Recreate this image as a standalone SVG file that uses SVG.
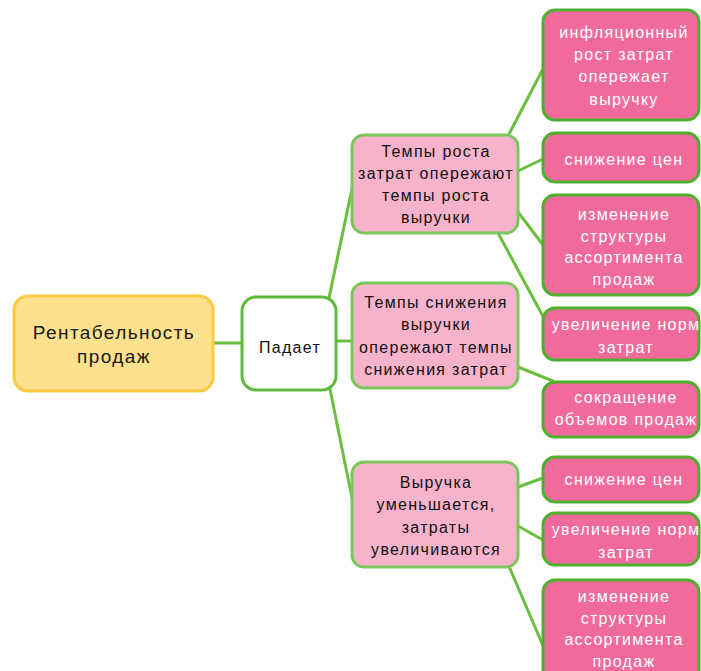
<svg xmlns="http://www.w3.org/2000/svg" width="701" height="671" viewBox="0 0 701 671">
<style>
text{font-family:"Liberation Sans",Arial,sans-serif;text-anchor:middle;}
.root rect{fill:#FFE08C;stroke:#FCC943;stroke-width:3;}
.root text{font-size:19px;letter-spacing:1.4px;fill:#1a1a1a;}
.hub rect{fill:#FFFFFF;stroke:#5DBA3B;stroke-width:3;}
.hub text{font-size:16px;letter-spacing:1.3px;fill:#111;}
.mid rect{fill:#F7B3CB;stroke:#7CC75B;stroke-width:3;}
.mid text{font-size:16px;letter-spacing:1.3px;fill:#111;}
.leaf rect{fill:#F06B9B;stroke:#4EAF2C;stroke-width:3;}
.leaf text{font-size:16px;letter-spacing:1.3px;fill:#FFFFFF;}
#connectors line{stroke:#6ABF3F;stroke-width:3;stroke-linecap:round;}
</style>
<rect width="701" height="671" fill="#FFFFFF"/>
<g id="connectors">
<line x1="213" y1="343" x2="242" y2="343"/>
<line x1="329" y1="298" x2="353" y2="184"/>
<line x1="336" y1="341" x2="352" y2="341"/>
<line x1="330" y1="389" x2="353" y2="503"/>
<line x1="508" y1="136" x2="544" y2="67"/>
<line x1="518" y1="171" x2="543" y2="159"/>
<line x1="518" y1="212" x2="543" y2="245"/>
<line x1="498" y1="233" x2="545" y2="320"/>
<line x1="518" y1="367" x2="553" y2="381"/>
<line x1="518" y1="487" x2="543" y2="478"/>
<line x1="518" y1="526" x2="543" y2="540"/>
<line x1="508" y1="564" x2="544" y2="648"/>
</g>
<g id="root" class="root">
<rect x="14" y="296" width="199" height="95" rx="14"/>
<text x="114" y="339">Рентабельность</text>
<text x="114" y="363">продаж</text>
</g>
<g id="hub" class="hub">
<rect x="242" y="297" width="94" height="93" rx="14"/>
<text x="290" y="353">Падает</text>
</g>
<g id="midA" class="mid">
<rect x="352" y="135" width="166" height="98" rx="12"/>
<text x="436" y="157">Темпы роста</text>
<text x="436" y="179">затрат опережают</text>
<text x="436" y="201">темпы роста</text>
<text x="436" y="223">выручки</text>
</g>
<g id="midB" class="mid">
<rect x="352" y="283" width="166" height="105" rx="12"/>
<text x="436" y="308">Темпы снижения</text>
<text x="436" y="330">выручки</text>
<text x="436" y="353">опережают темпы</text>
<text x="436" y="375">снижения затрат</text>
</g>
<g id="midC" class="mid">
<rect x="352" y="462" width="166" height="105" rx="12"/>
<text x="436" y="488">Выручка</text>
<text x="436" y="510">уменьшается,</text>
<text x="436" y="533">затраты</text>
<text x="436" y="555">увеличиваются</text>
</g>
<g id="leaf1" class="leaf">
<rect x="543" y="10" width="156" height="110" rx="12"/>
<text x="624" y="38">инфляционный</text>
<text x="624" y="60">рост затрат</text>
<text x="624" y="82">опережает</text>
<text x="624" y="105">выручку</text>
</g>
<g id="leaf2" class="leaf">
<rect x="543" y="133" width="156" height="49" rx="12"/>
<text x="624" y="165">снижение цен</text>
</g>
<g id="leaf3" class="leaf">
<rect x="543" y="195" width="156" height="100" rx="12"/>
<text x="624" y="220">изменение</text>
<text x="624" y="242">структуры</text>
<text x="624" y="263">ассортимента</text>
<text x="624" y="285">продаж</text>
</g>
<g id="leaf4" class="leaf">
<rect x="543" y="308" width="156" height="52" rx="12"/>
<text x="626" y="330">увеличение норм</text>
<text x="626" y="353">затрат</text>
</g>
<g id="leaf5" class="leaf">
<rect x="543" y="382" width="156" height="55" rx="12"/>
<text x="626" y="403">сокращение</text>
<text x="626" y="425">объемов продаж</text>
</g>
<g id="leaf6" class="leaf">
<rect x="543" y="457" width="156" height="45" rx="12"/>
<text x="624" y="485">снижение цен</text>
</g>
<g id="leaf7" class="leaf">
<rect x="543" y="513" width="156" height="52" rx="12"/>
<text x="626" y="535">увеличение норм</text>
<text x="626" y="558">затрат</text>
</g>
<g id="leaf8" class="leaf">
<rect x="543" y="580" width="156" height="108" rx="12"/>
<text x="624" y="602">изменение</text>
<text x="624" y="624">структуры</text>
<text x="624" y="645">ассортимента</text>
<text x="624" y="667">продаж</text>
</g>
</svg>
